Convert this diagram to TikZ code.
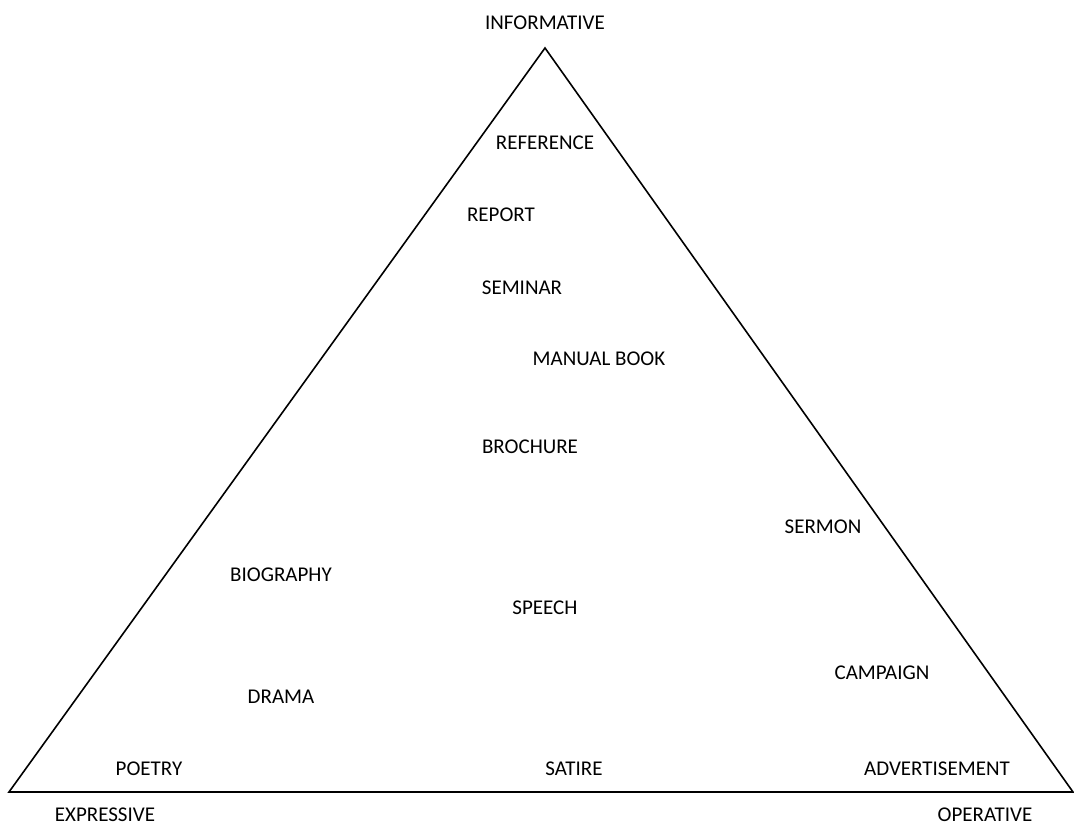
\documentclass[tikz,border=0pt]{standalone}
\usepackage{fontspec}
\setmainfont{Carlito}
\usetikzlibrary{calc}

\begin{document}
\begin{tikzpicture}[x=1pt, y=-1pt]
        % ================= styles =================
        \tikzset{
            % text label: plain caps, no border
            genre/.style={inner sep=0pt, font=\fontsize{21}{25}\selectfont},
            % triangle sides
            side/.style={line width=1.6pt, black, line join=miter}
        }

        % fix the page size
        \useasboundingbox (0,0) rectangle (1074,826);

        % ================= triangle =================
        \coordinate (top) at (545,48);
        \coordinate (left) at (9,792);
        \coordinate (right) at (1073,792);
        \draw[side] (top) -- (right) -- (left) -- cycle;

        % corner labels
        \node[genre] (informative) at (545,23) {INFORMATIVE};
        \node[genre] (expressive) at (105,815) {EXPRESSIVE};
        \node[genre] (operative) at (985,815) {OPERATIVE};

        % ================= text types =================
        \node[genre] (reference) at (545,143) {REFERENCE};
        \node[genre] (report) at (501,215) {REPORT};
        \node[genre] (seminar) at (522,288) {SEMINAR};
        \node[genre] (manual) at (599,359) {MANUAL BOOK};
        \node[genre] (brochure) at (530,447) {BROCHURE};
        \node[genre] (sermon) at (823,527) {SERMON};
        \node[genre] (biography) at (281,575) {BIOGRAPHY};
        \node[genre] (speech) at (545,608) {SPEECH};
        \node[genre] (campaign) at (882,673) {CAMPAIGN};
        \node[genre] (drama) at (281,697) {DRAMA};

        % bottom row
        \node[genre] (poetry) at (149,769) {POETRY};
        \node[genre] (satire) at (574,769) {SATIRE};
        \node[genre] (advert) at (937,769) {ADVERTISEMENT};

    \end{tikzpicture}
\end{document}
